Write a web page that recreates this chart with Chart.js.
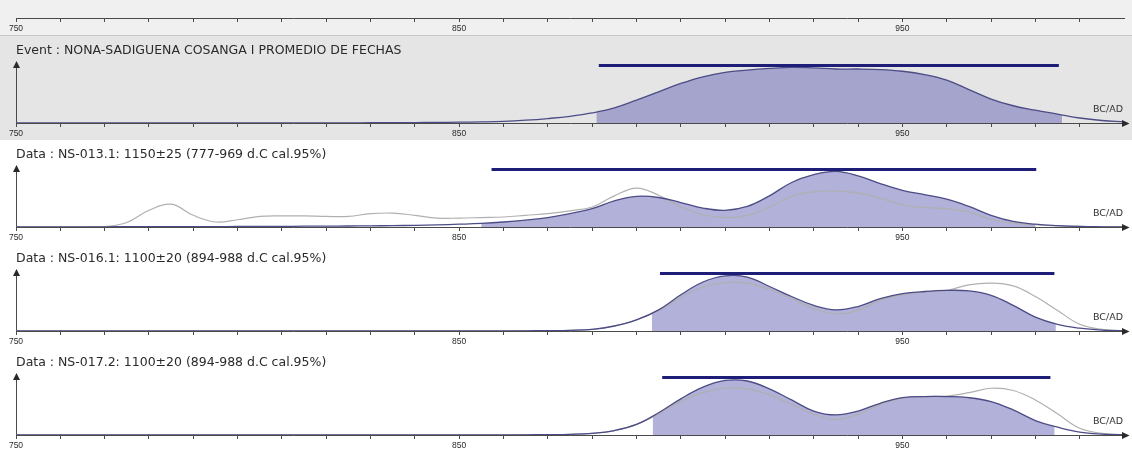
<!DOCTYPE html>
<html lang="es">
<head>
    <meta charset="UTF-8">
    <title>Nona-Sadiguena Cosanga I - calibrated dates</title>
    <script src="https://cdn.jsdelivr.net/npm/chart.js"></script>
    <style>
        body { margin: 0; background: #fff; }
        #plot { position: relative; width: 1132px; height: 449px; overflow: hidden; background: #fff; }
        .panel { position: absolute; left: 0; width: 1132px; }
        .panel canvas { display: block; }
        #strip { top: 0; height: 36px; background: #f0f0f0; }
        #sep { position: absolute; left: 0; top: 35px; width: 1132px; height: 1px; background: #c6c6c6; }
        #p1 { top: 36px; height: 104px; background: #e5e5e5; }
        #p2 { top: 140px; height: 104px; }
        #p3 { top: 244px; height: 104px; }
        #p4 { top: 348px; height: 104px; }
    </style>
</head>
<body>
    <div id="plot">
        <div class="panel" id="strip"><canvas id="topAxis" width="1132" height="36"></canvas></div>
        <div id="sep"></div>
        <div class="panel" id="p1"><canvas id="eventChart" width="1132" height="104"></canvas></div>
        <div class="panel" id="p2"><canvas id="ns013Chart" width="1132" height="104"></canvas></div>
        <div class="panel" id="p3"><canvas id="ns016Chart" width="1132" height="104"></canvas></div>
        <div class="panel" id="p4"><canvas id="ns017Chart" width="1132" height="104"></canvas></div>
    </div>

    <script>
        // calendar years (AD) the curves are read at
        const years = [750, 755, 760, 765, 770, 775, 780, 785, 790, 795,
                       800, 805, 810, 815, 820, 825, 830, 835, 840, 845,
                       850, 855, 860, 865, 870, 875, 880, 885, 890, 895,
                       900, 905, 910, 915, 920, 925, 930, 935, 940, 945,
                       950, 955, 960, 965, 970, 975, 980, 985, 990, 995, 1000];
        const tickLabels = [750, 850, 950];

        // Event (combined) posterior
        const eventPost = [0, 0, 0, 0, 0, 0, 0, 0, 0, 0,
                           0, 0, 0.001, 0.001, 0.002, 0.003, 0.005, 0.006, 0.008, 0.01,
                           0.014, 0.02, 0.03, 0.05, 0.08, 0.12, 0.18, 0.27, 0.41, 0.56,
                           0.71, 0.83, 0.91, 0.95, 0.98, 1.0, 0.99, 0.97, 0.97, 0.96,
                           0.93, 0.87, 0.77, 0.6, 0.43, 0.31, 0.23, 0.16, 0.09, 0.045, 0.02];

        // NS-013.1: modelled (blue) and unmodelled (grey)
        const ns013Post = [0, 0, 0.002, 0.003, 0.004, 0.005, 0.006, 0.007, 0.007, 0.008,
                           0.009, 0.01, 0.012, 0.014, 0.016, 0.018, 0.021, 0.025, 0.03, 0.038,
                           0.05, 0.065, 0.09, 0.125, 0.17, 0.24, 0.33, 0.47, 0.55, 0.53,
                           0.44, 0.34, 0.3, 0.37, 0.56, 0.8, 0.94, 1.0, 0.92, 0.78,
                           0.66, 0.58, 0.5, 0.37, 0.21, 0.1, 0.05, 0.025, 0.01, 0.004, 0];
        const ns013Like = [0, 0, 0, 0, 0.005, 0.08, 0.3, 0.41, 0.21, 0.09,
                           0.13, 0.19, 0.2, 0.2, 0.19, 0.19, 0.24, 0.25, 0.21, 0.16,
                           0.16, 0.17, 0.18, 0.21, 0.24, 0.29, 0.36, 0.56, 0.7, 0.57,
                           0.36, 0.22, 0.17, 0.21, 0.36, 0.55, 0.63, 0.65, 0.61, 0.52,
                           0.4, 0.35, 0.33, 0.27, 0.14, 0.07, 0.04, 0.02, 0.01, 0.004, 0];

        // NS-016.1
        const ns016Post = [0, 0, 0, 0, 0, 0, 0, 0, 0, 0,
                           0, 0, 0, 0, 0, 0, 0, 0, 0, 0,
                           0, 0, 0, 0.003, 0.006, 0.012, 0.03, 0.09, 0.2, 0.38,
                           0.65, 0.88, 0.99, 0.97, 0.8, 0.62, 0.46, 0.38, 0.44, 0.58,
                           0.67, 0.71, 0.73, 0.72, 0.64, 0.46, 0.25, 0.12, 0.05, 0.015, 0.005];
        const ns016Like = [0, 0, 0, 0, 0, 0, 0, 0, 0, 0,
                           0, 0, 0, 0, 0, 0, 0, 0, 0, 0,
                           0, 0, 0, 0.003, 0.006, 0.012, 0.03, 0.09, 0.2, 0.37,
                           0.6, 0.79, 0.87, 0.86, 0.75, 0.58, 0.4, 0.31, 0.37, 0.55,
                           0.65, 0.7, 0.73, 0.83, 0.86, 0.81, 0.62, 0.37, 0.12, 0.03, 0.005];

        // NS-017.2
        const ns017Post = [0, 0, 0, 0, 0, 0, 0, 0, 0, 0,
                           0, 0, 0, 0, 0, 0, 0, 0, 0, 0,
                           0, 0, 0, 0.003, 0.006, 0.012, 0.03, 0.08, 0.19, 0.4,
                           0.65, 0.86, 0.98, 0.97, 0.83, 0.63, 0.43, 0.36, 0.43, 0.57,
                           0.67, 0.69, 0.69, 0.67, 0.6, 0.45, 0.26, 0.14, 0.05, 0.015, 0.005];
        const ns017Like = [0, 0, 0, 0, 0, 0, 0, 0, 0, 0,
                           0, 0, 0, 0, 0, 0, 0, 0, 0, 0,
                           0, 0, 0, 0.003, 0.006, 0.012, 0.03, 0.08, 0.19, 0.38,
                           0.6, 0.76, 0.84, 0.83, 0.72, 0.55, 0.37, 0.28, 0.37, 0.55,
                           0.66, 0.69, 0.7, 0.76, 0.84, 0.8, 0.63, 0.38, 0.12, 0.03, 0.005];

        // 95% ranges: shaded area and the bar above it
        const eventFill = [881, 986];
        const eventBar = [881.5, 985.3];
        const ns013Fill = [855, 980];
        const ns013Bar = [857.3, 980.2];
        const ns016Fill = [893.5, 984.6];
        const ns016Bar = [895.3, 984.3];
        const ns017Fill = [893.7, 984.3];
        const ns017Bar = [895.8, 983.4];

        const titles = [
            'Event : NONA-SADIGUENA COSANGA I PROMEDIO DE FECHAS',
            'Data : NS-013.1: 1150±25 (777-969 d.C cal.95%)',
            'Data : NS-016.1: 1100±20 (894-988 d.C cal.95%)',
            'Data : NS-017.2: 1100±20 (894-988 d.C cal.95%)'
        ];

        const axisColor = '#4a4a4a';
        const barLevel = 1.035;

        function series(vals) {
            return years.map((x, i) => ({ x: x, y: vals[i] }));
        }

        function xAxis(height) {
            return {
                type: 'linear',
                min: 750,
                max: 1000,
                afterFit: s => { s.height = height; },
                border: { display: true, color: axisColor, width: 1 },
                grid: {
                    drawOnChartArea: false,
                    drawTicks: true,
                    tickLength: 4,
                    color: c => (c.tick && c.tick.value === 1000) ? 'rgba(0,0,0,0)' : axisColor
                },
                ticks: {
                    stepSize: 10,
                    maxTicksLimit: 30,
                    autoSkip: false,
                    maxRotation: 0,
                    padding: 2,
                    color: '#2a2a2a',
                    font: { family: 'Liberation Sans', size: 8.5 },
                    callback: v => tickLabels.includes(v) ? String(v) : ''
                }
            };
        }

        // clips the shaded dataset to its range, draws axis arrows and BC/AD
        const oxcalDecor = {
            id: 'oxcalDecor',
            beforeDatasetsDraw(chart) {
                const ds = chart.data.datasets;
                const r = ds[ds.length - 1].range;
                const a = chart.chartArea;
                const x = chart.scales.x;
                const x0 = x.getPixelForValue(r[0]);
                const x1 = x.getPixelForValue(r[1]);
                chart.ctx.save();
                chart.ctx.beginPath();
                chart.ctx.rect(x0, a.top, x1 - x0, a.bottom - a.top);
                chart.ctx.clip();
            },
            afterDatasetDraw(chart, args) {
                if (args.index === chart.data.datasets.length - 1) chart.ctx.restore();
            },
            afterDraw(chart) {
                const ctx = chart.ctx;
                const a = chart.chartArea;
                ctx.save();
                ctx.fillStyle = '#2a2a2a';
                ctx.beginPath();
                ctx.moveTo(a.right + 5.5, a.bottom + 0.5);
                ctx.lineTo(a.right - 2, a.bottom - 3);
                ctx.lineTo(a.right - 2, a.bottom + 4);
                ctx.closePath();
                ctx.fill();
                ctx.beginPath();
                ctx.moveTo(a.left + 0.5, a.top - 3);
                ctx.lineTo(a.left - 3, a.top + 4);
                ctx.lineTo(a.left + 4, a.top + 4);
                ctx.closePath();
                ctx.fill();
                ctx.font = '9.5px "DejaVu Sans"';
                ctx.fillStyle = '#333';
                ctx.textAlign = 'right';
                ctx.textBaseline = 'middle';
                ctx.fillText('BC/AD', a.right - 1, a.bottom - 13);
                ctx.restore();
            }
        };

        function panel(id, title, post, like, fillRange, barRange) {
            const datasets = [
                {
                    data: [{ x: barRange[0], y: barLevel }, { x: barRange[1], y: barLevel }],
                    borderColor: '#1e1e78',
                    borderWidth: 3,
                    borderCapStyle: 'butt'
                },
                {
                    data: series(post),
                    borderColor: '#4c4c86',
                    borderWidth: 1.3,
                    tension: 0.4
                }
            ];
            if (like) {
                datasets.push({
                    data: series(like),
                    borderColor: '#b0b0b0',
                    borderWidth: 1.2,
                    tension: 0.4
                });
            }
            datasets.push({
                data: series(post),
                borderWidth: 0,
                borderColor: 'rgba(0,0,0,0)',
                backgroundColor: 'rgba(100, 100, 182, 0.5)',
                fill: 'origin',
                tension: 0.4,
                range: fillRange
            });

            new Chart(document.getElementById(id), {
                type: 'line',
                data: { datasets: datasets },
                options: {
                    responsive: false,
                    animation: false,
                    events: [],
                    elements: { point: { radius: 0 } },
                    layout: { padding: { left: 16, right: 8, top: 0, bottom: 0 } },
                    plugins: {
                        legend: { display: false },
                        tooltip: { enabled: false },
                        title: {
                            display: true,
                            text: title,
                            align: 'start',
                            color: '#2a2a2a',
                            font: { family: 'DejaVu Sans', size: 12.5, weight: 'normal' },
                            padding: { top: 7, bottom: 6 }
                        }
                    },
                    scales: {
                        x: xAxis(17),
                        y: {
                            min: 0,
                            max: 1.06,
                            afterFit: s => { s.width = 0; },
                            ticks: { display: false },
                            grid: { display: false, drawTicks: false },
                            border: { display: true, color: axisColor, width: 1 }
                        }
                    }
                },
                plugins: [oxcalDecor]
            });
        }

        // top ruler
        new Chart(document.getElementById('topAxis'), {
            type: 'line',
            data: { datasets: [] },
            options: {
                responsive: false,
                animation: false,
                events: [],
                layout: { padding: { left: 16, right: 8, top: 0, bottom: 0 } },
                plugins: { legend: { display: false }, tooltip: { enabled: false } },
                scales: {
                    x: xAxis(18),
                    y: { display: false }
                }
            }
        });

        panel('eventChart', titles[0], eventPost, null, eventFill, eventBar);
        panel('ns013Chart', titles[1], ns013Post, ns013Like, ns013Fill, ns013Bar);
        panel('ns016Chart', titles[2], ns016Post, ns016Like, ns016Fill, ns016Bar);
        panel('ns017Chart', titles[3], ns017Post, ns017Like, ns017Fill, ns017Bar);
    </script>
</body>
</html>
